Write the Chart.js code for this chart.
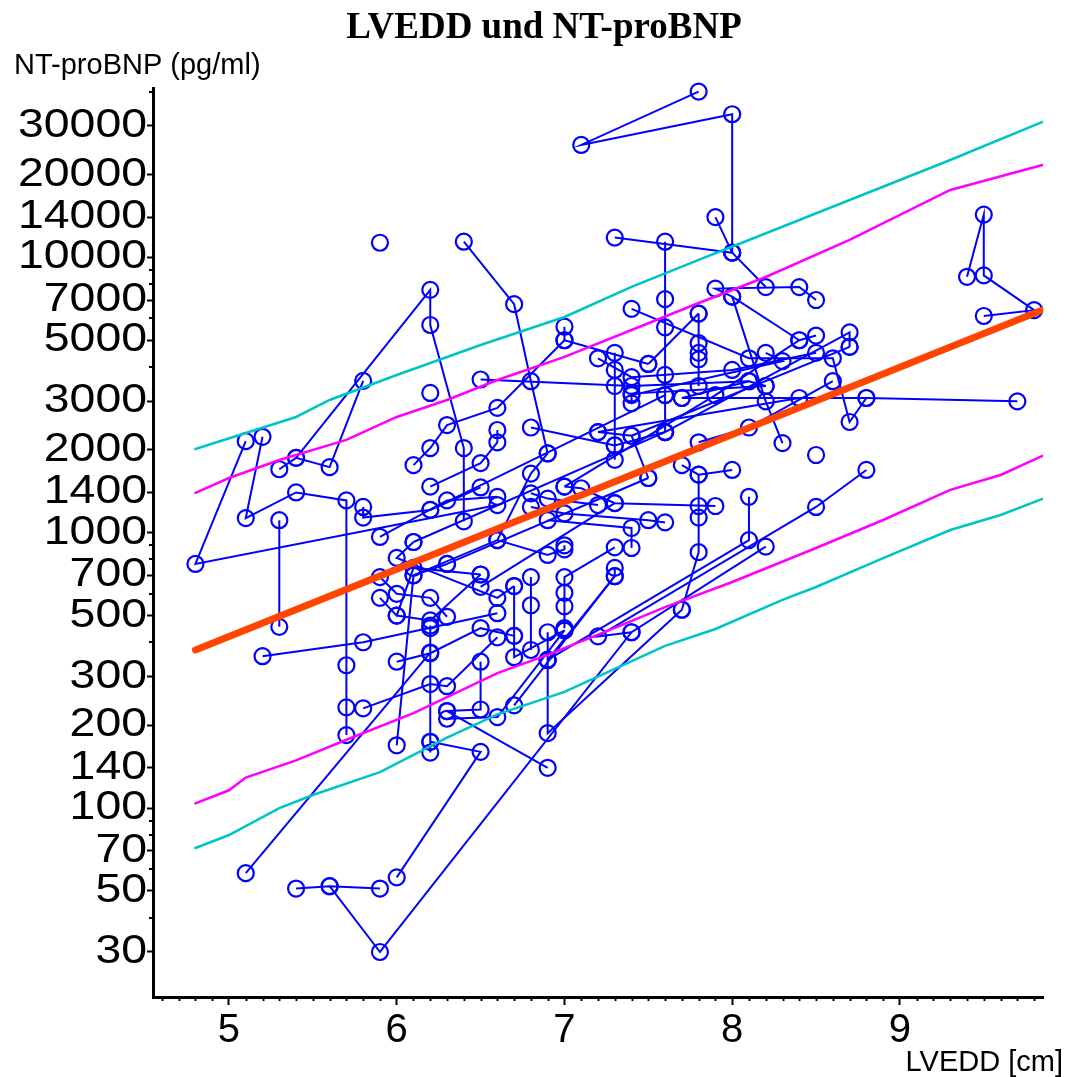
<!DOCTYPE html>
<html><head><meta charset="utf-8">
<script src="https://cdn.jsdelivr.net/npm/chart.js@4.4.1/dist/chart.umd.min.js"></script>
<style>html,body{margin:0;padding:0;background:#fff}#wrap{width:1075px;height:1077px}</style>
</head><body><div id="wrap"><canvas id="c" width="1075" height="1077"></canvas></div>
<script>
// ---- tick labels ----
const yTickValues = [30,50,70,100,140,200,300,500,700,1000,1400,2000,3000,5000,7000,10000,14000,20000,30000];
const yMinorValues = [40,60,80,90,400,600,800,900,4000,6000,8000,9000,40000];
const xTickValues = [5,6,7,8,9];

// ---- reference curves (LVEDD cm, NT-proBNP pg/ml) ----
const regressionLine = [[4.8,375],[9.85,6440]];
const cyanUpper = [[4.8,2013],[5.1,2302],[5.4,2632],[5.6,3034],[6.0,3739],[6.5,4807],[7.0,6074],[7.4,7807],[7.8,9787],[8.1,11565],[8.7,16160],[9.3,22580],[9.85,31030]];
const magentaUpper = [[4.8,1394],[5.0,1580],[5.3,1836],[5.7,2172],[6.0,2632],[6.3,3034],[6.6,3586],[7.0,4348],[7.4,5448],[7.8,6829],[8.2,8487],[8.7,11565],[9.3,17570],[9.85,21656]];
const magentaLower = [[4.8,104],[5.0,116],[5.1,129],[5.4,149],[5.7,177],[6.1,221],[6.6,309],[6.9,360],[7.3,451],[7.6,537],[8.0,662],[8.5,880],[8.9,1112],[9.3,1430],[9.6,1620],[9.85,1900]];
const cyanLower = [[4.8,71.6],[5.0,79.8],[5.3,100],[5.5,111.5],[5.9,135],[6.3,180],[6.6,219],[7.0,264],[7.3,320],[7.6,388],[7.9,447],[8.3,570],[8.5,635],[8.9,809],[9.3,1023],[9.6,1160],[9.85,1326]];

// ---- patient tracks: [LVEDD, NT-proBNP] per visit ----
const patients = [
 [[7.8,40000],[7.1,25600],[8.0,33100],[8.0,10400]],
 [[7.3,11800],[8.0,10400],[7.9,14000]],
 [[8.0,10400],[8.2,7800]],
 [[7.6,11400],[7.6,7050],[7.6,5570],[7.6,3740],[7.6,3160],[7.6,2320]],
 [[8.4,5000],[8.0,7200],[7.9,7700],[8.4,7800],[8.5,7000]],
 [[9.4,8500],[9.5,14300],[9.5,8600],[9.8,6430],[9.5,6125]],
 [[7.7,3085],[8.8,3085],[9.7,3000]],
 [[5.9,11300]],
 [[6.4,11400],[6.7,6760],[6.8,3550],[6.9,1940]],
 [[5.1,2150],[4.8,770],[6.6,1260]],
 [[5.2,2230],[5.1,1130],[5.4,1400],[5.7,1310],[5.7,330],[5.7,232],[5.7,184]],
 [[5.3,1700],[5.4,1870],[5.6,1730],[5.8,3560]],
 [[5.4,1870],[6.2,7620],[6.2,5680],[6.4,2030],[6.4,1100]],
 [[5.3,1110],[5.3,455]],
 [[5.2,356],[5.8,400],[6.6,510]],
 [[5.1,58],[6.2,367]],
 [[5.4,51],[5.6,52],[5.9,51]],
 [[5.6,52],[5.9,30],[7.4,435],[8.2,890]],
 [[6.0,56],[6.5,160],[6.2,174]],
 [[6.9,140],[6.3,225]],
 [[7.4,435],[7.2,420],[8.5,1240],[8.8,1690]],
 [[7.3,745],[7.3,695],[6.9,345]],
 [[6.9,435],[6.9,345],[6.9,187],[7.7,525]],
 [[7.3,885],[7.0,690],[7.0,605],[7.0,540],[7.0,450]],
 [[6.7,236],[7.3,695]],
 [[6.0,169],[6.1,700],[6.3,770]],
 [[6.2,159],[6.2,174],[6.2,460],[6.2,450]],
 [[6.5,340],[6.5,228],[6.3,225]],
 [[6.3,211],[6.6,214],[7.0,442]],
 [[5.8,230],[6.2,282],[6.3,277],[6.6,417]],
 [[5.9,690],[6.0,600],[6.2,580],[6.3,495]],
 [[5.9,580],[6.0,500],[6.1,745],[6.5,705]],
 [[6.0,340],[6.2,365],[6.5,450],[6.7,422]],
 [[5.9,965],[6.3,1310],[6.6,1350]],
 [[5.8,1240],[5.8,1135],[6.2,1210],[6.5,1460]],
 [[6.1,1760],[6.2,2030],[6.3,2460],[6.6,2840],[7.0,5000]],
 [[6.2,3217]],
 [[6.6,2360],[6.6,2130],[6.5,1790],[6.2,1470]],
 [[6.8,2410],[7.3,2075],[7.6,2320]],
 [[6.9,1940],[6.8,1640],[6.6,940],[6.1,700]],
 [[6.5,3600],[7.4,3410],[8.1,3550]],
 [[7.0,5600],[7.0,5000],[7.5,4100]],
 [[7.3,4500],[7.3,3900],[7.3,3410],[7.3,2075],[7.3,1840]],
 [[7.2,4300],[7.4,3670],[8.0,3900],[8.5,4500]],
 [[7.4,6500],[8.1,4300],[8.6,4300],[8.7,2524],[8.8,3085]],
 [[7.8,6250],[7.8,4880],[7.8,4500],[7.8,4260],[7.8,3410]],
 [[7.8,6250],[7.5,4100]],
 [[7.6,2320],[8.7,5340],[8.7,4730]],
 [[7.4,2250],[8.7,4730]],
 [[8.2,4500],[8.3,4200],[7.4,3160]],
 [[8.5,5200],[8.4,5000],[7.9,3160],[7.0,1470]],
 [[8.2,3410],[8.1,3550],[7.7,3085]],
 [[8.0,7200],[8.2,3000],[8.3,2115]],
 [[8.4,3085],[7.2,2320]],
 [[7.8,2130],[8.1,2410],[8.6,3550]],
 [[7.7,1760],[7.8,1625],[8.0,1690]],
 [[7.5,1580],[7.4,2250],[7.2,2320]],
 [[7.0,1470],[7.1,1450],[7.3,1280],[7.9,1250]],
 [[6.8,1390],[6.9,1330],[7.2,1260]],
 [[8.1,1350],[8.1,940],[6.9,345]],
 [[6.8,1240],[7.0,1175],[7.5,1110],[7.6,1090]],
 [[6.9,1110],[7.4,1040],[7.4,880]],
 [[7.0,900],[7.0,870],[6.9,830],[6.6,940]],
 [[7.8,1625],[7.8,1250],[7.8,1135],[7.8,850],[7.7,525]],
 [[8.5,1915]],
 [[6.1,925],[6.0,810],[6.6,580],[6.7,640]],
 [[6.8,690],[6.8,545],[6.8,375]],
 [[6.7,640],[6.7,422],[6.7,353],[7.0,442]],
 [[6.5,705],[6.2,480],[6.0,500]],
 [[6.3,770],[7.5,1580]],
 [[6.5,636],[7.3,1280]],
 [[6.2,1210],[7.6,3160]],
 [[6.1,925],[7.6,2320]],
 [[7.4,2950],[7.4,3200],[8.2,3410]]
];

const toXY = arr => arr.map(p => ({x:p[0], y:p[1]}));
const refLine = (d, color, w) => ({data: toXY(d), showLine: true, borderColor: color, borderWidth: w,
  pointRadius: 0, pointHoverRadius: 0, tension: 0, fill: false, order: 0, borderCapStyle: 'round'});

const datasets = [
  refLine(regressionLine, '#ff4500', 7),
  refLine(cyanUpper, '#00c4c4', 2.5),
  refLine(magentaUpper, '#ff00ff', 2.5),
  refLine(magentaLower, '#ff00ff', 2.5),
  refLine(cyanLower, '#00c4c4', 2.5)
];
patients.forEach(p => datasets.push({
  data: toXY(p), showLine: true, borderColor: '#0000ff', borderWidth: 2, tension: 0,
  pointRadius: 8, pointHoverRadius: 8, pointBorderWidth: 2.2, pointBorderColor: '#0000ff',
  pointBackgroundColor: 'rgba(0,0,0,0)', fill: false, order: 1, clip: false
}));

const textPlugin = {
  id: 'texts',
  afterDraw(chart) {
    const ctx = chart.ctx;
    ctx.save();
    ctx.fillStyle = '#000';
    ctx.font = 'bold 37px "Liberation Serif"';
    ctx.textAlign = 'center'; ctx.textBaseline = 'alphabetic';
    ctx.fillText('LVEDD und NT-proBNP', 544, 38);
    ctx.font = '29px "Liberation Sans"';
    ctx.textAlign = 'left';
    ctx.fillText('NT-proBNP (pg/ml)', 14, 74);
    ctx.textAlign = 'right';
    ctx.fillText('LVEDD [cm]', 1063, 1071);
    const xs = chart.scales.x, ys = chart.scales.y, ca = chart.chartArea;
    // y tick labels (drawn slightly wide, as in the original)
    ctx.font = '40px "Liberation Sans"';
    ctx.textAlign = 'right'; ctx.textBaseline = 'middle';
    yTickValues.forEach(v => {
      const py = ys.getPixelForValue(v);
      ctx.save();
      ctx.translate(147, py);
      ctx.scale(1.16, 1);
      ctx.fillText(String(v), 0, 0);
      ctx.restore();
    });
    // minor ticks
    ctx.strokeStyle = '#000'; ctx.lineWidth = 2;
    ctx.beginPath();
    yMinorValues.forEach(v => {
      const py = Math.round(ys.getPixelForValue(v));
      if (py < ca.top - 1 || py > ca.bottom) return;
      ctx.moveTo(ca.left - 4, py); ctx.lineTo(ca.left, py);
    });
    for (let i = 46; i <= 98; i++) {
      if (i % 10 === 0) continue;
      const px = Math.round(xs.getPixelForValue(i / 10)) + 0.5;
      if (px < ca.left || px > ca.right) continue;
      ctx.moveTo(px, ca.bottom); ctx.lineTo(px, ca.bottom + 4);
    }
    ctx.stroke();
    ctx.restore();
  }
};

new Chart(document.getElementById('c'), {
  type: 'scatter',
  data: { datasets },
  plugins: [textPlugin],
  options: {
    responsive: false, animation: false, devicePixelRatio: 1,
    layout: { padding: { top: 88, right: 32, left: 0, bottom: 0 } },
    plugins: { legend: { display: false }, tooltip: { enabled: false }, title: { display: false } },
    scales: {
      x: {
        type: 'linear', min: 4.547, max: 9.853,
        afterBuildTicks: s => { s.ticks = xTickValues.map(v => ({value: v})); },
        afterFit: s => { s.height = 80; },
        ticks: { autoSkip: false, maxRotation: 0, padding: 2, color: '#000',
          font: { family: '"Liberation Sans"', size: 40 }, callback: v => String(v) },
        grid: { drawOnChartArea: false, drawTicks: true, tickLength: 8, tickWidth: 2, tickColor: '#000' },
        border: { display: true, color: '#000', width: 3 }
      },
      y: {
        type: 'logarithmic', min: 20.59, max: 41220,
        afterBuildTicks: s => { s.ticks = yTickValues.map(v => ({value: v})); },
        afterFit: s => { s.width = 153; },
        ticks: { display: false, autoSkip: false },
        grid: { drawOnChartArea: false, drawTicks: true, tickLength: 6, tickWidth: 2, tickColor: '#000' },
        border: { display: true, color: '#000', width: 3 }
      }
    }
  }
});
</script></body></html>
